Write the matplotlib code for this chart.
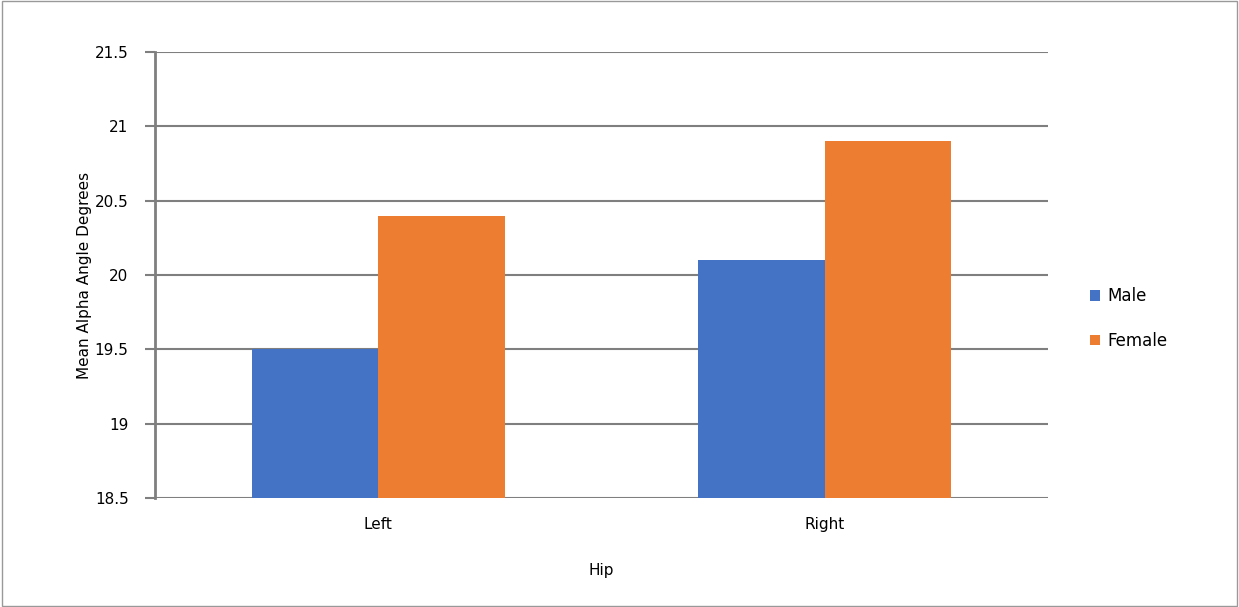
import matplotlib
matplotlib.use("Agg")
import matplotlib.pyplot as plt
import numpy as np

categories = ["Left", "Right"]
series_names = ["Male", "Female"]
male = [19.5, 20.1]
female = [20.4, 20.9]
yticks = [18.5, 19, 19.5, 20, 20.5, 21, 21.5]
ytick_labels = ["18.5", "19", "19.5", "20", "20.5", "21", "21.5"]

colors = ["#4472C4", "#ED7D31"]

fig = plt.figure(figsize=(12.39, 6.07), dpi=100)
fig.patch.set_facecolor("white")
ax = fig.add_axes([0.1251, 0.1796, 0.7207, 0.7347])

x = np.arange(len(categories))
w = 0.283
ax.bar(x - w / 2, male, width=w, color=colors[0], label=series_names[0], zorder=3)
ax.bar(x + w / 2, female, width=w, color=colors[1], label=series_names[1], zorder=3)

ax.set_xlim(-0.5, 1.5)
ax.set_ylim(18.5, 21.5)
ax.set_yticks(yticks)
ax.set_yticklabels(ytick_labels, fontsize=11)
ax.set_xticks(x)
ax.set_xticklabels(categories, fontsize=11)
ax.tick_params(axis="x", length=0, pad=14)
ax.tick_params(axis="y", length=7, width=1.5, color="#7f7f7f", pad=12)

ax.yaxis.grid(True, color="#7f7f7f", linewidth=1.5, zorder=0)
for s in ["top", "right", "bottom"]:
    ax.spines[s].set_visible(False)
ax.spines["left"].set_color("#7f7f7f")
ax.spines["left"].set_linewidth(2)

ax.set_xlabel("Hip", fontsize=11, labelpad=22)
ax.set_ylabel("Mean Alpha Angle Degrees", fontsize=11, labelpad=2)

leg = fig.legend(loc="center left", bbox_to_anchor=(0.868, 0.475), frameon=False,
                 fontsize=12, handlelength=0.6, handleheight=0.6, labelspacing=1.6,
                 handletextpad=0.4)

border = plt.Rectangle((0.002, 0.002), 0.996, 0.996, transform=fig.transFigure,
                       fill=False, edgecolor="#999999", linewidth=1)
fig.patches.append(border)

fig.savefig("out.png", dpi=100)
